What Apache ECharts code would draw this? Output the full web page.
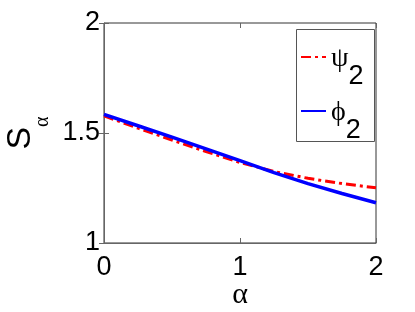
<!DOCTYPE html>
<html>
<head>
<meta charset="utf-8">
<script src="https://cdn.jsdelivr.net/npm/echarts@6/dist/echarts.min.js"></script>
<style>html,body{margin:0;padding:0;background:#fff;}#c{width:415px;height:312px;}</style>
</head>
<body>
<div id="c"></div>
<script>
const alphaVals = [0, 0.25, 0.5, 0.75, 1, 1.25, 1.5, 1.75, 2];
const psi2 = [1.578, 1.522, 1.468, 1.416, 1.366, 1.325, 1.294, 1.270, 1.251];
const phi2 = [1.585, 1.533, 1.481, 1.428, 1.374, 1.320, 1.270, 1.225, 1.183];
const xTicks = [0, 1, 2];
const yTicks = [1, 1.5, 2];
const seriesNames = ['psi2', 'phi2'];

const FONT = '"Liberation Sans", Arial, sans-serif';
const GREEK = '"Liberation Serif", "DejaVu Serif", serif';
const chart = echarts.init(document.getElementById('c'), null, {renderer: 'canvas'});
const pairs = arr => alphaVals.map((a, i) => [a, arr[i]]);
const axisCol = '#666';
const tickStyle = {show: true, inside: true, length: 5, lineStyle: {color: axisCol, width: 1}};

chart.setOption({
  animation: false,
  grid: {left: 104, right: 39, top: 23, bottom: 69, show: true, borderColor: '#333', borderWidth: 1,
         containLabel: false, outerBoundsMode: 'none'},
  xAxis: [{
    type: 'value', min: xTicks[0], max: xTicks[xTicks.length - 1], interval: 1,
    axisLine: {show: true, lineStyle: {color: axisCol}},
    axisTick: tickStyle, splitLine: {show: false},
    axisLabel: {fontSize: 27, color: '#000', fontFamily: FONT, margin: 11},
    name: 'α', nameLocation: 'middle', nameGap: 37, nameMoveOverlap: false,
    nameTextStyle: {fontSize: 30, fontFamily: GREEK, color: '#000'}
  }, {
    type: 'value', position: 'top', min: 0, max: 2, interval: 1,
    axisLine: {show: false}, axisTick: tickStyle, axisLabel: {show: false}, splitLine: {show: false}
  }],
  yAxis: [{
    type: 'value', min: yTicks[0], max: yTicks[yTicks.length - 1], interval: 0.5,
    axisLine: {show: true, lineStyle: {color: axisCol}},
    axisTick: tickStyle, splitLine: {show: false},
    axisLabel: {fontSize: 27, color: '#000', fontFamily: FONT, margin: 4},
    name: '{s|S}{a|α}', nameLocation: 'middle', nameGap: 66, nameRotate: 90, nameMoveOverlap: false,
    nameTextStyle: {
      rich: {
        s: {fontSize: 34, lineHeight: 34, fontFamily: FONT, color: '#000', verticalAlign: 'top'},
        a: {fontSize: 20, lineHeight: 20, fontFamily: GREEK, color: '#000', verticalAlign: 'top', padding: [29, 0, 0, 0]}
      }
    }
  }, {
    type: 'value', position: 'right', min: 1, max: 2, interval: 0.5,
    axisLine: {show: false}, axisTick: tickStyle, axisLabel: {show: false}, splitLine: {show: false}
  }],
  legend: {
    orient: 'vertical', left: 300, top: 43, padding: 0, itemGap: 7,
    itemWidth: 25, itemHeight: 2,
    itemStyle: {opacity: 0},
    data: seriesNames,
    formatter: function (n) {
      return n === 'psi2' ? '{m|ψ}{b|2}' : '{m|ϕ}{b|2}';
    },
    textStyle: {
      rich: {
        m: {fontSize: 28, lineHeight: 28, fontFamily: GREEK, color: '#000', verticalAlign: 'top', padding: [2, 0, 0, 0]},
        b: {fontSize: 27, lineHeight: 28, fontFamily: FONT, color: '#000', verticalAlign: 'top', padding: [20, 0, 0, 0]}
      }
    }
  },
  graphic: [{
    type: 'rect', left: 294, top: 27, shape: {width: 78, height: 112},
    style: {fill: 'none', stroke: '#555', lineWidth: 1}, z: 100
  }],
  series: [{
    name: 'psi2', type: 'line', data: pairs(psi2), showSymbol: false, symbol: 'none',
    lineStyle: {color: '#ff0000', width: 3, type: [10, 4, 3, 4]}, itemStyle: {color: '#ff0000'}
  }, {
    name: 'phi2', type: 'line', data: pairs(phi2), showSymbol: false, symbol: 'none',
    lineStyle: {color: '#0000ff', width: 3.5}, itemStyle: {color: '#0000ff'}
  }]
});
</script>
</body>
</html>
